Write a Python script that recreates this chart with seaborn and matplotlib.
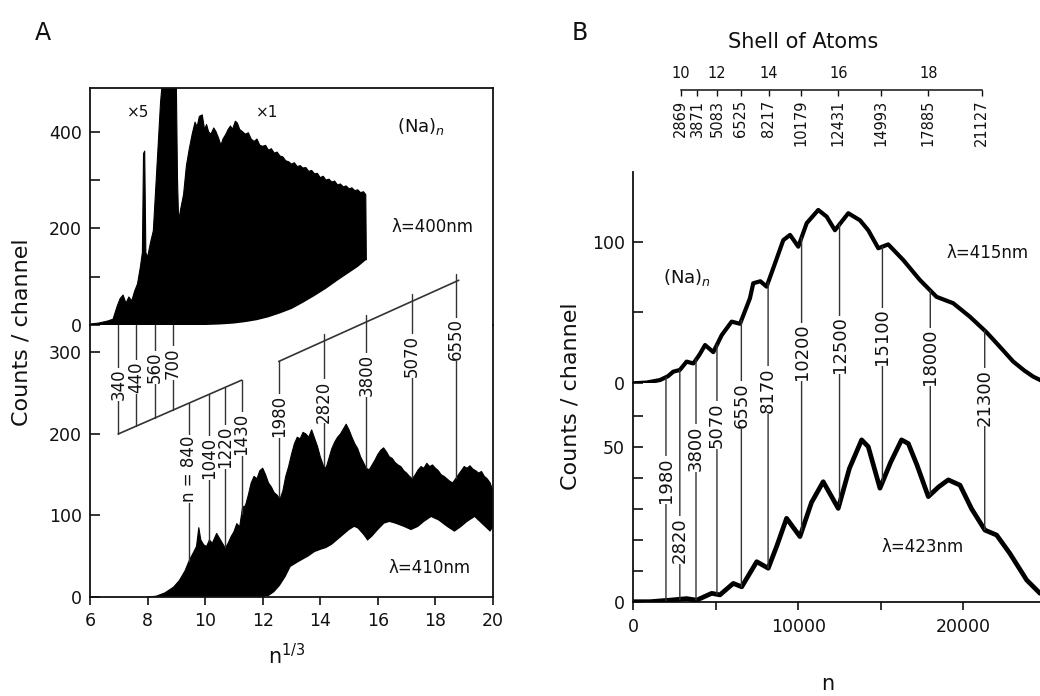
import numpy as np
import matplotlib
matplotlib.use("Agg")
import matplotlib.pyplot as plt
import matplotlib.transforms as mtransforms
import seaborn as sns
from matplotlib.patches import ConnectionPatch

# ---------------- Panel A data (x = n^(1/3)) ----------------
# lambda = 400 nm spectrum (upper trace): upper envelope
a400_x = [6.0, 6.3, 6.6, 6.8, 6.95, 7.05, 7.15, 7.25, 7.35, 7.45,
          7.55, 7.65, 7.75, 7.82, 7.86, 7.9, 7.94, 8.0, 8.1, 8.2,
          8.3, 8.38, 8.45, 8.5, 9.0, 9.04, 9.08, 9.15, 9.25, 9.35,
          9.45, 9.55, 9.65, 9.72, 9.8, 9.9, 9.98, 10.05, 10.12, 10.2,
          10.3, 10.38, 10.46, 10.55, 10.62, 10.72, 10.8, 10.88, 10.95, 11.05,
          11.12, 11.2, 11.3, 11.4, 11.5, 11.6, 11.7, 11.8, 11.9, 12.0,
          12.1, 12.2, 12.3, 12.4, 12.5, 12.6, 12.7, 12.8, 12.9, 13.0,
          13.1, 13.2, 13.3, 13.4, 13.5, 13.6, 13.7, 13.8, 13.9, 14.0,
          14.1, 14.2, 14.3, 14.4, 14.5, 14.6, 14.7, 14.8, 14.9, 15.0,
          15.1, 15.2, 15.3, 15.4, 15.5, 15.58, 15.6]
a400_hi = [2, 4, 8, 12, 40, 55, 62, 45, 58, 50,
           70, 85, 120, 150, 355, 360, 150, 140, 170, 195,
           300, 385, 460, 495, 495, 300, 215, 240, 270, 330,
           365, 395, 420, 410, 432, 435, 405, 415, 400, 395,
           408, 400, 388, 372, 385, 395, 405, 412, 405, 422,
           418, 405, 400, 395, 398, 385, 380, 385, 372, 370,
           372, 362, 365, 356, 358, 350, 348, 340, 338, 333,
           336, 328, 330, 325, 326, 318, 320, 313, 314, 305,
           308, 300, 302, 296, 298, 290, 292, 286, 288, 282,
           284, 278, 280, 274, 276, 270, 135]
# lambda = 400 nm spectrum: lower envelope
a400_lo_x = [6.0, 10.0, 10.5, 11.0, 11.4, 11.8, 12.2, 12.6, 13.0, 13.4,
             13.8, 14.2, 14.6, 15.0, 15.3, 15.6]
a400_lo = [0, 0, 1, 3, 6, 10, 16, 24, 33, 46,
           60, 75, 92, 108, 120, 135]

# lambda = 410 nm spectrum (lower trace): upper envelope
a410_x = [8.0, 8.3, 8.6, 8.9, 9.1, 9.3, 9.45, 9.6, 9.7, 9.78,
          9.85, 9.95, 10.05, 10.15, 10.25, 10.4, 10.5, 10.6, 10.7, 10.8,
          10.9, 11.0, 11.1, 11.2, 11.3, 11.4, 11.5, 11.6, 11.7, 11.8,
          11.9, 12.0, 12.1, 12.2, 12.3, 12.4, 12.5, 12.6, 12.7, 12.8,
          12.9, 13.0, 13.1, 13.2, 13.3, 13.4, 13.5, 13.6, 13.7, 13.8,
          13.9, 14.0, 14.1, 14.2, 14.3, 14.4, 14.5, 14.6, 14.7, 14.8,
          14.9, 15.0, 15.1, 15.2, 15.3, 15.4, 15.5, 15.6, 15.7, 15.8,
          15.9, 16.0, 16.1, 16.2, 16.3, 16.4, 16.5, 16.6, 16.7, 16.8,
          16.9, 17.0, 17.1, 17.2, 17.3, 17.4, 17.5, 17.6, 17.7, 17.8,
          17.9, 18.0, 18.1, 18.2, 18.3, 18.4, 18.5, 18.6, 18.7, 18.8,
          18.9, 19.0, 19.1, 19.2, 19.3, 19.4, 19.5, 19.6, 19.7, 19.8,
          19.9, 20.0]
a410_hi = [0, 1, 5, 12, 20, 32, 45, 55, 62, 85,
           70, 64, 62, 70, 66, 78, 72, 66, 60, 66,
           74, 80, 90, 86, 110, 112, 125, 140, 148, 145,
           155, 158, 150, 140, 135, 128, 125, 120, 130, 148,
           160, 175, 188, 196, 194, 202, 200, 196, 205, 195,
           185, 172, 162, 158, 170, 182, 190, 196, 200, 206,
           212, 205, 196, 188, 182, 172, 165, 158, 156, 162,
           168, 175, 180, 183, 178, 172, 170, 165, 162, 160,
           155, 152, 148, 145, 150, 156, 160, 158, 164, 160,
           162, 158, 155, 150, 148, 145, 142, 140, 145, 150,
           155, 160, 158, 161, 157, 155, 152, 154, 148, 145,
           140, 130]
# lambda = 410 nm spectrum: lower envelope
a410_lo_x = [8.0, 12.0, 12.2, 12.4, 12.6, 12.8, 12.97, 13.2, 13.4, 13.6,
             13.8, 14.02, 14.2, 14.4, 14.6, 14.8, 15.0, 15.18, 15.3, 15.5,
             15.64, 15.8, 16.0, 16.22, 16.4, 16.6, 16.9, 17.15, 17.4, 17.6,
             17.85, 18.1, 18.4, 18.66, 18.9, 19.1, 19.36, 19.6, 19.9, 20.0]
a410_lo = [0, 0, 1, 6, 14, 25, 37, 42, 46, 50,
           55, 58, 60, 64, 70, 76, 82, 86, 84, 76,
           69, 74, 82, 90, 92, 90, 86, 82, 86, 92,
           98, 94, 86, 80, 86, 92, 98, 90, 80, 85]

# magic numbers marked in panel A
a_magic_up = [340, 440, 560, 700]
a_magic_mid = [840, 1040, 1220, 1430]
a_mid_labels = ["n = 840", "1040", "1220", "1430"]
a_magic_low = [1980, 2820, 3800, 5070, 6550]

# ---------------- Panel B data (x = n) ----------------
b415_n = [0, 800, 1620, 2100, 2420, 2820, 3230, 3640, 4000, 4350,
          4850, 5360, 5960, 6470, 7070, 7270, 7700, 8080, 8600, 9090,
          9500, 10000, 10510, 11210, 11720, 12220, 13030, 13740, 14240, 14850,
          15450, 16360, 17370, 18380, 19390, 20400, 21410, 22200, 23030, 23700,
          24240, 24800]
b415_counts = [0, 0.5, 2.3, 5, 8.2, 9.4, 15.3, 14, 20, 27,
               22, 34, 43.5, 42, 60, 70.6, 72, 68.2, 85, 101,
               104.7, 96.4, 113, 122.3, 117.6, 108, 120, 115, 108, 95.3,
               98, 87, 72.9, 61, 56.5, 47, 36, 26, 15.3, 9,
               4.7, 1.5]
b423_n = [0, 1000, 2220, 3230, 3840, 4750, 5250, 6060, 6570, 7480,
          8180, 8700, 9290, 10100, 10800, 11510, 12420, 13100, 13840, 14240,
          14950, 15600, 16260, 16670, 17200, 17880, 18500, 19090, 19800, 20500,
          21310, 22020, 22820, 23840, 24650]
b423_counts = [0, 0, 0.5, 1, 0.5, 2.7, 2.2, 5.9, 4.8, 12.9,
               10.8, 18, 26.9, 21, 32, 38.7, 30.1, 43, 52.2, 50,
               36.6, 45, 52.2, 51, 44, 33.9, 37, 39.3, 37.6, 30,
               23.1, 21.5, 15.6, 7, 2.7]
b_magic = [1980, 2820, 3800, 5070, 6550, 8170, 10200, 12500, 15100, 18000, 21300]
b_shell_n = [2869, 3871, 5083, 6525, 8217, 10179, 12431, 14993, 17885, 21127]
b_shell_labels = ["10", "12", "14", "16", "18"]

# ---------------- layout (pixel positions of the reference) ----------------
W, H = 1040, 696
def fx(px):
    return px / W
def fy(py):
    return 1 - py / H

A_BOT_YMAX = 333.7
A_TOP_YMAX = 490.7
B_BOT_YMAX = 70.45
B_TOP_YMAX = 149.3
B_XMAX = 24650

a_up_label_y = [261, 270, 282, 287]
a_mid_label_y = [157, 171, 184, 200]
a_low_label_y = [222, 240, 272, 296, 316]
diag1 = (200, 266)
diag2 = (289, 387)
b_label_y = [39.3, 19.9, 49.6, 57, 63.5, 68.3, 80.5, 82.8, 85.4, 79, 66]

sns.set_theme(style="ticks")
plt.rcParams['font.family'] = ['DejaVu Sans']
plt.rcParams['axes.linewidth'] = 1.3
plt.rcParams['xtick.major.width'] = 1.2
plt.rcParams['ytick.major.width'] = 1.2
plt.rcParams['ytick.minor.width'] = 1.2
plt.rcParams['xtick.minor.width'] = 1.2
plt.rcParams['axes.edgecolor'] = '#111111'
plt.rcParams['text.color'] = '#111111'
plt.rcParams['xtick.color'] = '#111111'
plt.rcParams['ytick.color'] = '#111111'
plt.rcParams['xtick.labelcolor'] = '#111111'
plt.rcParams['ytick.labelcolor'] = '#111111'

TICK_FS = 12.5
fig = plt.figure(figsize=(W / 100, H / 100), dpi=100)

# ================= Panel A =================
axA_bot = fig.add_axes([fx(90), fy(597), fx(493) - fx(90), fy(325) - fy(597)])
axA_top = fig.add_axes([fx(90), fy(325), fx(493) - fx(90), fy(88) - fy(325)])
axA_top.set_facecolor('none')

# lower trace (410 nm)
poly_x = np.r_[a410_x, a410_lo_x[::-1]]
poly_y = np.r_[a410_hi, a410_lo[::-1]]
axA_bot.fill(poly_x, poly_y, color='black', lw=0, zorder=2)
sns.lineplot(x=a410_x, y=a410_hi, ax=axA_bot, color='black', lw=0.8,
             estimator=None, sort=False, zorder=2)
# upper trace (400 nm)
poly_x = np.r_[a400_x, a400_lo_x[::-1]]
poly_y = np.r_[a400_hi, a400_lo[::-1]]
axA_top.fill(poly_x, poly_y, color='black', lw=0, zorder=2)
sns.lineplot(x=a400_x, y=a400_hi, ax=axA_top, color='black', lw=0.8,
             estimator=None, sort=False, zorder=2)

for ax in (axA_bot, axA_top):
    ax.set_xlim(6, 20)
    ax.set_xlabel('')
    ax.set_ylabel('')
    ax.spines['right'].set_visible(True)
axA_bot.set_ylim(0, A_BOT_YMAX)
axA_top.set_ylim(0, A_TOP_YMAX)
axA_bot.spines['top'].set_visible(False)
axA_top.spines['bottom'].set_visible(False)
axA_top.spines['top'].set_visible(True)

axA_bot.set_xticks([6, 8, 10, 12, 14, 16, 18, 20])
axA_bot.set_yticks([0, 100, 200, 300])
axA_top.set_xticks([])
axA_top.set_yticks([0, 200, 400])
axA_top.set_yticks([100, 300], minor=True)
axA_bot.tick_params(axis='x', direction='out', length=6, labelsize=TICK_FS, pad=5)
axA_bot.tick_params(axis='y', direction='in', length=7, labelsize=TICK_FS, pad=6)
axA_top.tick_params(axis='y', which='both', direction='in', length=7,
                    labelsize=TICK_FS, pad=6)

LC = '#333333'
LW = 1.0
lab_kw = dict(rotation=90, ha='center', va='center', fontsize=12,
              bbox=dict(facecolor='white', edgecolor='none', pad=0.6), zorder=6)

def diag_y(x, x0, x1, y0, y1):
    return y0 + (x - x0) * (y1 - y0) / (x1 - x0)

# first diagonal scale (340 ... 1430)
d1x0, d1x1 = np.cbrt(a_magic_up[0]), np.cbrt(a_magic_mid[-1])
axA_bot.plot([d1x0, d1x1], list(diag1), color=LC, lw=1.2, zorder=3, clip_on=False)
for m, ly in zip(a_magic_up, a_up_label_y):
    x = np.cbrt(m)
    yd = diag_y(x, d1x0, d1x1, *diag1)
    axA_bot.plot([x, x], [yd, A_BOT_YMAX], color=LC, lw=LW, zorder=3)
    axA_bot.text(x, ly, str(m), **lab_kw)
for m, lab, ly in zip(a_magic_mid, a_mid_labels, a_mid_label_y):
    x = np.cbrt(m)
    yd = diag_y(x, d1x0, d1x1, *diag1)
    ys = np.interp(x, a410_x, a410_hi)
    axA_bot.plot([x, x], [ys, yd], color=LC, lw=LW, zorder=3)
    axA_bot.text(x, ly, lab, **lab_kw)

# second diagonal scale (1980 ... 6550)
d2x0, d2x1 = np.cbrt(a_magic_low[0]), np.cbrt(a_magic_low[-1])
axA_bot.plot([d2x0, d2x1 + 0.1], [diag2[0], diag_y(d2x1 + 0.1, d2x0, d2x1, *diag2)],
             color=LC, lw=1.2, zorder=3, clip_on=False)
for i, (m, ly) in enumerate(zip(a_magic_low, a_low_label_y)):
    x = np.cbrt(m)
    yd = diag_y(x, d2x0, d2x1, *diag2)
    top = yd if i == 0 else yd + 9
    ys = np.interp(x, a410_x, a410_hi)
    axA_bot.plot([x, x], [ys, top], color=LC, lw=LW, zorder=3, clip_on=False)
    axA_bot.text(x, ly, str(m), **lab_kw)

axA_top.text(7.67, 439, '×5', fontsize=11, ha='center', va='center')
axA_top.text(12.15, 439, '×1', fontsize=11, ha='center', va='center')
axA_top.text(17.5, 410, '(Na)$_n$', fontsize=13, ha='center', va='center')
axA_top.text(17.9, 203, 'λ=400nm', fontsize=12, ha='center', va='center')
axA_bot.text(17.8, 36, 'λ=410nm', fontsize=12, ha='center', va='center')

# ================= Panel B =================
axB_bot = fig.add_axes([fx(633.3), fy(601.7), 1 - fx(633.3), fy(383.3) - fy(601.7)])
axB_top = fig.add_axes([fx(633.3), fy(383.3), 1 - fx(633.3), fy(171.7) - fy(383.3)])
axB_top.set_facecolor('none')

sns.lineplot(x=b423_n, y=b423_counts, ax=axB_bot, color='black', lw=3.4,
             estimator=None, sort=False, zorder=4)
sns.lineplot(x=b415_n, y=b415_counts, ax=axB_top, color='black', lw=3.0,
             estimator=None, sort=False, zorder=4)

for ax in (axB_bot, axB_top):
    ax.set_xlim(0, B_XMAX)
    ax.set_xlabel('')
    ax.set_ylabel('')
    ax.spines['right'].set_visible(False)
    ax.spines['top'].set_visible(False)
axB_top.spines['bottom'].set_visible(False)
axB_bot.set_ylim(0, B_BOT_YMAX)
axB_top.set_ylim(0, B_TOP_YMAX)

axB_bot.set_xticks([0, 10000, 20000])
axB_bot.set_xticks([5000, 15000], minor=True)
axB_bot.set_yticks([0, 50])
axB_bot.set_yticks([10, 20, 30, 40, 60], minor=True)
axB_top.set_xticks([])
axB_top.set_yticks([0, 100])
axB_top.set_yticks([50], minor=True)
axB_bot.tick_params(axis='x', which='both', direction='out', length=6,
                    labelsize=TICK_FS, pad=6)
axB_bot.tick_params(axis='y', which='both', direction='in', length=7,
                    labelsize=TICK_FS, pad=6)
axB_top.tick_params(axis='y', which='both', direction='in', length=7,
                    labelsize=TICK_FS, pad=6)

# marker lines joining both traces with magic-number labels
for m, ly in zip(b_magic, b_label_y):
    lo = np.interp(m, b423_n, b423_counts)
    hi = np.interp(m, b415_n, b415_counts)
    con = ConnectionPatch(xyA=(m, lo), coordsA=axB_bot.transData,
                          xyB=(m, hi), coordsB=axB_top.transData,
                          color=LC, lw=LW, zorder=3)
    fig.add_artist(con)
    fig.text(m, ly, str(m), transform=axB_bot.transData, rotation=90,
             ha='center', va='center', fontsize=13,
             bbox=dict(facecolor='white', edgecolor='none', pad=0.6), zorder=6)

axB_top.text(3255, 75, '(Na)$_n$', fontsize=13, ha='center', va='center')
axB_top.text(21500, 92, 'λ=415nm', fontsize=12, ha='center', va='center')
axB_bot.text(17550, 17.6, 'λ=423nm', fontsize=12, ha='center', va='center')

# "Shell of Atoms" scale
axS = fig.add_axes([fx(633.3), fy(90), 1 - fx(633.3), 0.05])
axS.set_facecolor('none')
axS.set_xlim(0, B_XMAX)
axS.set_ylim(0, 1)
for s in ('top', 'right', 'left'):
    axS.spines[s].set_visible(False)
axS.spines['bottom'].set_bounds(b_shell_n[0], b_shell_n[-1])
axS.spines['bottom'].set_linewidth(1.1)
axS.set_yticks([])
axS.set_xticks(b_shell_n)
axS.set_xticklabels([str(v) for v in b_shell_n], rotation=90, fontsize=10.5)
axS.tick_params(axis='x', direction='out', length=4, width=1.0, pad=3)
trans = mtransforms.blended_transform_factory(axS.transData, axS.transAxes)
for n, lab in zip(b_shell_n[::2], b_shell_labels):
    axS.text(n, 0.25, lab, transform=trans, ha='center', va='bottom', fontsize=10.5)
fig.text(fx(803), fy(42), 'Shell of Atoms', fontsize=15, ha='center', va='center')

# ================= labels =================
fig.text(fx(43), fy(33), 'A', fontsize=17, ha='center', va='center')
fig.text(fx(580), fy(33), 'B', fontsize=17, ha='center', va='center')
fig.text(fx(22), fy(332), 'Counts / channel', rotation=90, fontsize=16,
         ha='center', va='center')
fig.text(fx(570), fy(396), 'Counts / channel', rotation=90, fontsize=16,
         ha='center', va='center')
fig.text(fx(287), fy(656), 'n$^{1/3}$', fontsize=15, ha='center', va='center')
fig.text(fx(828), fy(684), 'n', fontsize=15, ha='center', va='center')

fig.savefig('out.png', dpi=100)
